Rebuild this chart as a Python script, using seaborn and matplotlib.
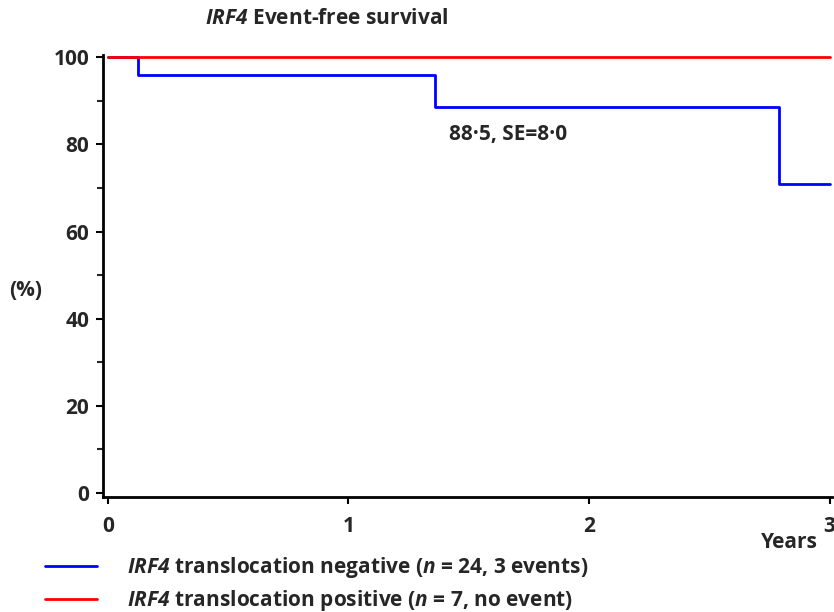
import pandas as pd
import matplotlib
matplotlib.use("Agg")
import matplotlib.pyplot as plt
import seaborn as sns
from matplotlib.ticker import MultipleLocator

# Datos
grupos = ["negative", "positive"]
tiempo_neg = [0, 0.125, 1.36, 2.79, 3.0]
surv_neg = [100, 95.8, 88.5, 70.8, 70.8]
tiempo_pos = [0, 3.0]
surv_pos = [100, 100]
colores = {"negative": "#0000ff", "positive": "#ff0000"}
etiquetas = [r"$IRF4$ translocation negative ($n$ = 24, 3 events)",
             r"$IRF4$ translocation positive ($n$ = 7, no event)"]

df = pd.concat([
    pd.DataFrame({"Años": tiempo_neg, "Supervivencia": surv_neg, "Grupo": "negative"}),
    pd.DataFrame({"Años": tiempo_pos, "Supervivencia": surv_pos, "Grupo": "positive"}),
])

sns.set_style("white")
plt.rcParams["font.family"] = ["Open Sans", "DejaVu Sans"]
plt.rcParams["font.weight"] = "bold"
# las partes en mathtext son siempre cursiva negrita
plt.rcParams["mathtext.fontset"] = "custom"
plt.rcParams["mathtext.it"] = "Open Sans:italic:bold"
plt.rcParams["mathtext.rm"] = "Open Sans:italic:bold"
plt.rcParams["mathtext.default"] = "rm"

fs = 15

fig = plt.figure(figsize=(8.34, 6.12), dpi=100)
ax = fig.add_axes([103 / 834, 115 / 612, 729 / 834, 442 / 612])

sns.lineplot(data=df, x="Años", y="Supervivencia", hue="Grupo", palette=colores,
             drawstyle="steps-post", estimator=None, linewidth=2, ax=ax, legend=False)

ax.set_xlim(-0.02, 3.01)
ax.set_ylim(-0.9, 100.5)
ax.xaxis.set_major_locator(MultipleLocator(1))
ax.yaxis.set_major_locator(MultipleLocator(20))
ax.yaxis.set_minor_locator(MultipleLocator(10))
ax.tick_params(axis="both", which="major", direction="out", length=5, width=1.5,
               labelsize=fs, left=True, bottom=True, color="black")
ax.tick_params(axis="x", which="major", pad=9)
ax.tick_params(axis="y", which="major", pad=5)
ax.tick_params(axis="y", which="minor", direction="out", length=4, width=1.5, left=True)
for lab in ax.get_xticklabels() + ax.get_yticklabels():
    lab.set_fontweight("bold")
sns.despine(ax=ax)
for s in ["left", "bottom"]:
    ax.spines[s].set_linewidth(2)
    ax.spines[s].set_color("black")

ax.set_xlabel("")
ax.set_ylabel("")
fig.text(26 / 834, 1 - 290 / 612, "(%)", fontsize=fs, fontweight="bold", ha="center", va="center")
fig.text(789 / 834, 1 - 543 / 612, "Years", fontsize=fs, fontweight="bold", ha="center", va="center")
fig.text(205 / 834, 1 - 19 / 612, r"$IRF4$ Event-free survival", fontsize=fs,
         fontweight="bold", ha="left", va="center")

ax.text(1.42, 82.3, "88·5, SE=8·0", fontsize=fs, fontweight="bold", ha="left", va="center")

handles = [plt.Line2D([], [], color=colores[g], linewidth=2) for g in grupos]
fig.legend(handles, etiquetas, loc="upper left", bbox_to_anchor=(45 / 834, 1 - 555 / 612),
           frameon=False, handlelength=2.5, handletextpad=1.45, borderpad=0,
           borderaxespad=0, labelspacing=0.4, prop={"weight": "bold", "size": fs})

fig.savefig("out.png", dpi=100)
